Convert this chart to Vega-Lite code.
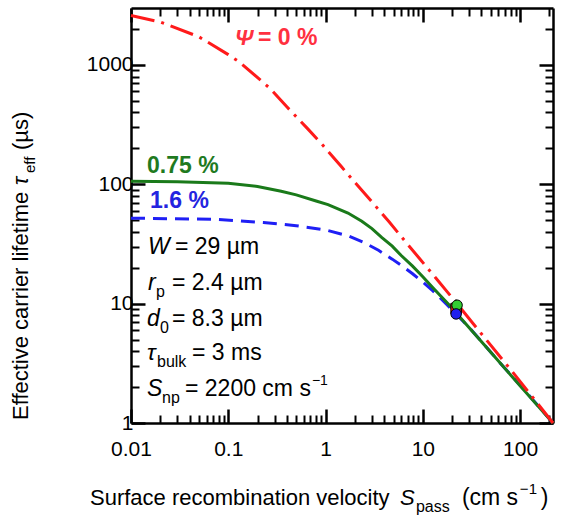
{
  "$schema": "https://vega.github.io/schema/vega-lite/v6.json",
  "width": 422,
  "height": 415,
  "autosize": {"type": "none"},
  "padding": {"left": 131, "top": 8, "right": 27, "bottom": 101},
  "background": "white",
  "config": {
    "view": {"stroke": null},
    "font": "Liberation Sans",
    "axis": {"grid": false, "domainColor": "black", "tickColor": "black", "labelColor": "black", "labelFont": "Liberation Sans", "labelFontSize": 21, "title": null, "labelOverlap": false, "labelFlush": false}
  },
  "datasets": {
    "curves": [
      {"s": "r", "x": 0.01, "y": 2600}, {"s": "r", "x": 0.02, "y": 2290}, {"s": "r", "x": 0.05, "y": 1720},
      {"s": "r", "x": 0.1, "y": 1220}, {"s": "r", "x": 0.13, "y": 1060}, {"s": "r", "x": 0.27, "y": 634},
      {"s": "r", "x": 0.4, "y": 446}, {"s": "r", "x": 0.65, "y": 294}, {"s": "r", "x": 0.94, "y": 212},
      {"s": "r", "x": 1.46, "y": 140}, {"s": "r", "x": 2.0, "y": 104}, {"s": "r", "x": 3.2, "y": 67},
      {"s": "r", "x": 4.5, "y": 48.5}, {"s": "r", "x": 6.6, "y": 33.2}, {"s": "r", "x": 9.2, "y": 24.0},
      {"s": "r", "x": 13.6, "y": 16.4}, {"s": "r", "x": 22, "y": 10.2}, {"s": "r", "x": 40, "y": 5.6},
      {"s": "r", "x": 80, "y": 2.8}, {"s": "r", "x": 150, "y": 1.47}, {"s": "r", "x": 218, "y": 1.0},
      {"s": "g", "x": 0.01, "y": 106}, {"s": "g", "x": 0.03, "y": 105}, {"s": "g", "x": 0.1, "y": 102},
      {"s": "g", "x": 0.2, "y": 96}, {"s": "g", "x": 0.35, "y": 87.5}, {"s": "g", "x": 0.5, "y": 81.5},
      {"s": "g", "x": 0.8, "y": 72.5}, {"s": "g", "x": 1.06, "y": 67.5}, {"s": "g", "x": 1.7, "y": 57.4},
      {"s": "g", "x": 2.36, "y": 49}, {"s": "g", "x": 3.0, "y": 42.5}, {"s": "g", "x": 3.8, "y": 35.8},
      {"s": "g", "x": 4.85, "y": 30.3}, {"s": "g", "x": 6.0, "y": 25.3}, {"s": "g", "x": 7.85, "y": 20.6},
      {"s": "g", "x": 10, "y": 16.8}, {"s": "g", "x": 12.7, "y": 13.6}, {"s": "g", "x": 19, "y": 9.6},
      {"s": "g", "x": 30, "y": 6.28}, {"s": "g", "x": 50, "y": 3.91}, {"s": "g", "x": 100, "y": 2.05},
      {"s": "g", "x": 218, "y": 1.0},
      {"s": "b", "x": 0.01, "y": 52}, {"s": "b", "x": 0.07, "y": 51}, {"s": "b", "x": 0.23, "y": 47.8},
      {"s": "b", "x": 0.5, "y": 45}, {"s": "b", "x": 1.0, "y": 41.5}, {"s": "b", "x": 1.7, "y": 37},
      {"s": "b", "x": 2.5, "y": 32.5}, {"s": "b", "x": 3.5, "y": 28}, {"s": "b", "x": 4.85, "y": 23.6},
      {"s": "b", "x": 6.5, "y": 20}, {"s": "b", "x": 7.85, "y": 17.8}, {"s": "b", "x": 10, "y": 15.2},
      {"s": "b", "x": 12.7, "y": 12.8}, {"s": "b", "x": 17.3, "y": 10.0}, {"s": "b", "x": 22, "y": 8.2},
      {"s": "b", "x": 30.6, "y": 6.2}, {"s": "b", "x": 60, "y": 3.3}, {"s": "b", "x": 120, "y": 1.75},
      {"s": "b", "x": 218, "y": 1.0}
    ],
    "points": [
      {"s": "r", "x": 22, "y": 9.1},
      {"s": "g", "x": 22.5, "y": 9.7},
      {"s": "b", "x": 22, "y": 8.2}
    ],
    "vbars": [{"x": 22, "y": 7.8, "y2": 10.8}],
    "hbars": [{"x": 19.5, "x2": 25, "y": 9.2}],
    "sym": [
      {"t": "W", "x": 0.01495, "y": 26.1},
      {"t": "r", "x": 0.01495, "y": 13.0},
      {"t": "d", "x": 0.0146, "y": 6.5},
      {"t": "τ", "x": 0.0146, "y": 3.37},
      {"t": "S", "x": 0.0146, "y": 1.68}
    ],
    "vals": [
      {"t": "= 29 µm", "x": 0.02833, "y": 26.1},
      {"t": "= 2.4 µm", "x": 0.02638, "y": 13.0},
      {"t": "= 8.3 µm", "x": 0.02638, "y": 6.5},
      {"t": "= 3 ms", "x": 0.04234, "y": 3.37},
      {"t": "= 2200 cm s", "x": 0.03588, "y": 1.68}
    ],
    "subs": [
      {"t": "p", "x": 0.01807, "y": 13.0},
      {"t": "0", "x": 0.01986, "y": 6.5},
      {"t": "bulk", "x": 0.0185, "y": 3.37},
      {"t": "np", "x": 0.02083, "y": 1.68}
    ],
    "sups": [
      {"t": "−1", "x": 0.7247, "y": 1.68}
    ],
    "xtitle": [
      {"t": "Surface recombination velocity", "x": 0.00379, "y": 0.2047}
    ],
    "xtitleUnit": [
      {"t": "(cm s", "x": 25.22, "y": 0.2047},
      {"t": ")", "x": 163.6, "y": 0.2047}
    ],
    "xtitleSym": [{"t": "S", "x": 5.82, "y": 0.2047}],
    "xtitleSub": [{"t": "pass", "x": 8.5, "y": 0.2047}],
    "xtitleSup": [{"t": "−1", "x": 99.5, "y": 0.2047}],
    "ytitle": [
      {"t": "Effective carrier lifetime", "x": 0.000873, "y": 1.06},
      {"t": "(µs)", "x": 0.000873, "y": 193.7}
    ],
    "ytitleSym": [{"t": "τ", "x": 0.000873, "y": 98.6}],
    "ytitleSub": [{"t": "eff", "x": 0.000873, "y": 124.3}],
    "psi": [{"t": "Ψ", "x": 0.117, "y": 1469}],
    "labels": [
      {"t": "= 0 %", "c": "r", "x": 0.2018, "y": 1469},
      {"t": "0.75 %", "c": "g", "x": 0.0146, "y": 124.3},
      {"t": "1.6 %", "c": "b", "x": 0.0157, "y": 63.3}
    ]
  },
  "encoding": {
    "x": {"field": "x", "type": "quantitative", "scale": {"type": "log", "domain": [0.01, 218], "nice": false}, "axis": null},
    "y": {"field": "y", "type": "quantitative", "scale": {"type": "log", "domain": [1, 3000], "nice": false}, "axis": null}
  },
  "layer": [
    {
      "data": {"name": "curves"},
      "transform": [{"filter": "datum.s === 'b'"}],
      "mark": {"type": "line", "color": "#1f1ff5", "strokeWidth": 3, "strokeDash": [14, 8]},
      "encoding": {
        "x": {"field": "x", "type": "quantitative", "scale": {"type": "log", "domain": [0.01, 218], "nice": false},
          "axis": {"orient": "bottom", "values": [0.01, 0.1, 1, 10, 100], "format": "~g", "tickSize": -14, "tickWidth": 2.5, "domainWidth": 2.5, "labelPadding": 29}},
        "y": {"field": "y", "type": "quantitative", "scale": {"type": "log", "domain": [1, 3000], "nice": false},
          "axis": {"orient": "left", "values": [1, 10, 100, 1000], "format": "~g", "tickSize": -14, "tickWidth": 2.5, "domainWidth": 2.5, "labelPadding": 12}}
      }
    },
    {
      "data": {"name": "curves"},
      "transform": [{"filter": "datum.s === 'g'"}],
      "mark": {"type": "line", "color": "#1a7a1a", "strokeWidth": 3},
      "encoding": {
        "x": {"field": "x", "type": "quantitative", "scale": {"type": "log", "domain": [0.01, 218], "nice": false},
          "axis": {"orient": "bottom", "values": [0.02,0.03,0.04,0.05,0.06,0.07,0.08,0.09,0.2,0.3,0.4,0.5,0.6,0.7,0.8,0.9,2,3,4,5,6,7,8,9,20,30,40,50,60,70,80,90,200], "labels": false, "domain": false, "tickSize": -8, "tickWidth": 2}},
        "y": {"field": "y", "type": "quantitative", "scale": {"type": "log", "domain": [1, 3000], "nice": false},
          "axis": {"orient": "left", "values": [2,3,4,5,6,7,8,9,20,30,40,50,60,70,80,90,200,300,400,500,600,700,800,900,2000], "labels": false, "domain": false, "tickSize": -8, "tickWidth": 2}}
      }
    },
    {
      "data": {"name": "curves"},
      "transform": [{"filter": "datum.s === 'r'"}],
      "mark": {"type": "line", "color": "#ff1a1a", "strokeWidth": 3, "strokeDash": [24, 7, 3, 7]},
      "encoding": {
        "x": {"field": "x", "type": "quantitative", "scale": {"type": "log", "domain": [0.01, 218], "nice": false},
          "axis": {"orient": "top", "values": [0.01, 0.1, 1, 10, 100], "labels": false, "tickSize": -14, "tickWidth": 2.5, "domainWidth": 2.5}},
        "y": {"field": "y", "type": "quantitative", "scale": {"type": "log", "domain": [1, 3000], "nice": false},
          "axis": {"orient": "right", "values": [1, 10, 100, 1000], "labels": false, "tickSize": -14, "tickWidth": 2.5, "domainWidth": 2.5}}
      }
    },
    {
      "data": {"name": "vbars"},
      "mark": {"type": "rule", "color": "black", "strokeWidth": 2},
      "encoding": {
        "x": {"field": "x", "type": "quantitative", "scale": {"type": "log", "domain": [0.01, 218], "nice": false},
          "axis": {"orient": "top", "values": [0.02,0.03,0.04,0.05,0.06,0.07,0.08,0.09,0.2,0.3,0.4,0.5,0.6,0.7,0.8,0.9,2,3,4,5,6,7,8,9,20,30,40,50,60,70,80,90,200], "labels": false, "domain": false, "tickSize": -8, "tickWidth": 2}},
        "y": {"field": "y", "type": "quantitative", "scale": {"type": "log", "domain": [1, 3000], "nice": false},
          "axis": {"orient": "right", "values": [2,3,4,5,6,7,8,9,20,30,40,50,60,70,80,90,200,300,400,500,600,700,800,900,2000], "labels": false, "domain": false, "tickSize": -8, "tickWidth": 2}},
        "y2": {"field": "y2"}
      }
    },
    {
      "data": {"name": "hbars"},
      "mark": {"type": "rule", "color": "black", "strokeWidth": 2},
      "encoding": {"x2": {"field": "x2"}}
    },
    {
      "data": {"name": "points"},
      "transform": [{"filter": "datum.s === 'r'"}],
      "mark": {"type": "point", "shape": "square", "filled": true, "color": "#ff2020", "stroke": "black", "strokeWidth": 1, "size": 110, "opacity": 1}
    },
    {
      "data": {"name": "points"},
      "transform": [{"filter": "datum.s !== 'r'"}],
      "mark": {"type": "point", "shape": "circle", "filled": true, "stroke": "black", "strokeWidth": 1, "size": 110, "opacity": 1},
      "encoding": {"fill": {"field": "s", "type": "nominal", "scale": {"domain": ["g", "b"], "range": ["#33cc33", "#2020ee"]}, "legend": null}}
    },
    {
      "data": {"name": "sym"},
      "mark": {"type": "text", "align": "left", "baseline": "alphabetic", "fontSize": 23, "fontStyle": "italic", "color": "black"},
      "encoding": {"text": {"field": "t"}}
    },
    {
      "data": {"name": "vals"},
      "mark": {"type": "text", "align": "left", "baseline": "alphabetic", "fontSize": 23, "color": "black"},
      "encoding": {"text": {"field": "t"}}
    },
    {
      "data": {"name": "subs"},
      "mark": {"type": "text", "align": "left", "baseline": "alphabetic", "fontSize": 16, "dy": 7, "color": "black"},
      "encoding": {"text": {"field": "t"}}
    },
    {
      "data": {"name": "sups"},
      "mark": {"type": "text", "align": "left", "baseline": "alphabetic", "fontSize": 14, "dy": -11, "color": "black"},
      "encoding": {"text": {"field": "t"}}
    },
    {
      "data": {"name": "xtitle"},
      "mark": {"type": "text", "align": "left", "baseline": "alphabetic", "fontSize": 22, "color": "black"},
      "encoding": {"text": {"field": "t"}}
    },
    {
      "data": {"name": "xtitleUnit"},
      "mark": {"type": "text", "align": "left", "baseline": "alphabetic", "fontSize": 23, "color": "black"},
      "encoding": {"text": {"field": "t"}}
    },
    {
      "data": {"name": "xtitleSym"},
      "mark": {"type": "text", "align": "left", "baseline": "alphabetic", "fontSize": 22, "fontStyle": "italic", "color": "black"},
      "encoding": {"text": {"field": "t"}}
    },
    {
      "data": {"name": "xtitleSub"},
      "mark": {"type": "text", "align": "left", "baseline": "alphabetic", "fontSize": 16, "dy": 7, "color": "black"},
      "encoding": {"text": {"field": "t"}}
    },
    {
      "data": {"name": "xtitleSup"},
      "mark": {"type": "text", "align": "left", "baseline": "alphabetic", "fontSize": 15, "dy": -11, "color": "black"},
      "encoding": {"text": {"field": "t"}}
    },
    {
      "data": {"name": "ytitle"},
      "mark": {"type": "text", "align": "left", "baseline": "alphabetic", "fontSize": 22, "angle": 270, "color": "black"},
      "encoding": {"text": {"field": "t"}}
    },
    {
      "data": {"name": "ytitleSym"},
      "mark": {"type": "text", "align": "left", "baseline": "alphabetic", "fontSize": 22, "fontStyle": "italic", "angle": 270, "color": "black"},
      "encoding": {"text": {"field": "t"}}
    },
    {
      "data": {"name": "ytitleSub"},
      "mark": {"type": "text", "align": "left", "baseline": "alphabetic", "fontSize": 15, "angle": 270, "dy": 7, "color": "black"},
      "encoding": {"text": {"field": "t"}}
    },
    {
      "data": {"name": "psi"},
      "mark": {"type": "text", "align": "left", "baseline": "alphabetic", "fontSize": 22, "fontStyle": "italic", "fontWeight": "bold", "color": "#ff3040"},
      "encoding": {"text": {"field": "t"}}
    },
    {
      "data": {"name": "labels"},
      "mark": {"type": "text", "align": "left", "baseline": "alphabetic", "fontSize": 23, "fontWeight": "bold"},
      "encoding": {
        "text": {"field": "t"},
        "color": {"field": "c", "type": "nominal", "scale": {"domain": ["r", "g", "b"], "range": ["#ff3040", "#1f7a1f", "#2424e0"]}, "legend": null}
      }
    }
  ],
  "resolve": {"axis": {"x": "independent", "y": "independent"}}
}
